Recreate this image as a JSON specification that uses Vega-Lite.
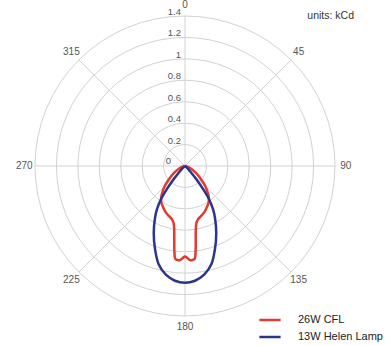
{
  "$schema": "https://vega.github.io/schema/vega-lite/v6.json",
  "width": 300,
  "height": 300,
  "autosize": "none",
  "padding": {"left": 35, "top": 16, "right": 53, "bottom": 29},
  "config": {"view": {"stroke": null}, "font": "Liberation Sans"},
  "title": {"text": "units: kCd", "anchor": "end", "frame": "group", "orient": "top", "offset": -29.5, "dx": 19, "baseline": "alphabetic", "fontSize": 10.5, "fontWeight": "normal", "color": "#333", "font": "Liberation Sans"},
  "datasets": {
    "curves": [
      {"series": "26W CFL", "a": 90, "r": 0},
      {"series": "26W CFL", "a": 105, "r": 0.03},
      {"series": "26W CFL", "a": 115, "r": 0.07},
      {"series": "26W CFL", "a": 123, "r": 0.13},
      {"series": "26W CFL", "a": 130, "r": 0.2},
      {"series": "26W CFL", "a": 135, "r": 0.27},
      {"series": "26W CFL", "a": 139, "r": 0.32},
      {"series": "26W CFL", "a": 143, "r": 0.37},
      {"series": "26W CFL", "a": 147, "r": 0.405},
      {"series": "26W CFL", "a": 152, "r": 0.435},
      {"series": "26W CFL", "a": 157, "r": 0.465},
      {"series": "26W CFL", "a": 162, "r": 0.49},
      {"series": "26W CFL", "a": 166, "r": 0.51},
      {"series": "26W CFL", "a": 168.5, "r": 0.54},
      {"series": "26W CFL", "a": 170, "r": 0.585},
      {"series": "26W CFL", "a": 171, "r": 0.64},
      {"series": "26W CFL", "a": 172, "r": 0.72},
      {"series": "26W CFL", "a": 173, "r": 0.81},
      {"series": "26W CFL", "a": 174, "r": 0.87},
      {"series": "26W CFL", "a": 175.5, "r": 0.88},
      {"series": "26W CFL", "a": 177, "r": 0.88},
      {"series": "26W CFL", "a": 178.5, "r": 0.86},
      {"series": "26W CFL", "a": 180, "r": 0.845},
      {"series": "26W CFL", "a": 181.5, "r": 0.86},
      {"series": "26W CFL", "a": 183, "r": 0.88},
      {"series": "26W CFL", "a": 184.5, "r": 0.88},
      {"series": "26W CFL", "a": 186, "r": 0.87},
      {"series": "26W CFL", "a": 187, "r": 0.81},
      {"series": "26W CFL", "a": 188, "r": 0.72},
      {"series": "26W CFL", "a": 189, "r": 0.64},
      {"series": "26W CFL", "a": 190, "r": 0.585},
      {"series": "26W CFL", "a": 191.5, "r": 0.54},
      {"series": "26W CFL", "a": 194, "r": 0.51},
      {"series": "26W CFL", "a": 198, "r": 0.49},
      {"series": "26W CFL", "a": 203, "r": 0.465},
      {"series": "26W CFL", "a": 208, "r": 0.435},
      {"series": "26W CFL", "a": 213, "r": 0.405},
      {"series": "26W CFL", "a": 217, "r": 0.37},
      {"series": "26W CFL", "a": 221, "r": 0.32},
      {"series": "26W CFL", "a": 225, "r": 0.27},
      {"series": "26W CFL", "a": 230, "r": 0.2},
      {"series": "26W CFL", "a": 237, "r": 0.13},
      {"series": "26W CFL", "a": 245, "r": 0.07},
      {"series": "26W CFL", "a": 255, "r": 0.03},
      {"series": "26W CFL", "a": 270, "r": 0},
      {"series": "13W Helen Lamp", "a": 90, "r": 0},
      {"series": "13W Helen Lamp", "a": 130, "r": 0.02},
      {"series": "13W Helen Lamp", "a": 137, "r": 0.08},
      {"series": "13W Helen Lamp", "a": 140, "r": 0.18},
      {"series": "13W Helen Lamp", "a": 142, "r": 0.28},
      {"series": "13W Helen Lamp", "a": 144, "r": 0.38},
      {"series": "13W Helen Lamp", "a": 147, "r": 0.48},
      {"series": "13W Helen Lamp", "a": 150, "r": 0.56},
      {"series": "13W Helen Lamp", "a": 155, "r": 0.69},
      {"series": "13W Helen Lamp", "a": 160, "r": 0.82},
      {"series": "13W Helen Lamp", "a": 165, "r": 0.95},
      {"series": "13W Helen Lamp", "a": 170, "r": 1.03},
      {"series": "13W Helen Lamp", "a": 175, "r": 1.075},
      {"series": "13W Helen Lamp", "a": 180, "r": 1.09},
      {"series": "13W Helen Lamp", "a": 185, "r": 1.075},
      {"series": "13W Helen Lamp", "a": 190, "r": 1.03},
      {"series": "13W Helen Lamp", "a": 195, "r": 0.95},
      {"series": "13W Helen Lamp", "a": 200, "r": 0.82},
      {"series": "13W Helen Lamp", "a": 205, "r": 0.69},
      {"series": "13W Helen Lamp", "a": 210, "r": 0.56},
      {"series": "13W Helen Lamp", "a": 213, "r": 0.48},
      {"series": "13W Helen Lamp", "a": 216, "r": 0.38},
      {"series": "13W Helen Lamp", "a": 218, "r": 0.28},
      {"series": "13W Helen Lamp", "a": 220, "r": 0.18},
      {"series": "13W Helen Lamp", "a": 223, "r": 0.08},
      {"series": "13W Helen Lamp", "a": 230, "r": 0.02},
      {"series": "13W Helen Lamp", "a": 270, "r": 0}
    ]
  },
  "layer": [
    {
      "data": {"values": [{"r": 0.2}, {"r": 0.4}, {"r": 0.6}, {"r": 0.8}, {"r": 1.0}, {"r": 1.2}, {"r": 1.4}]},
      "mark": {"type": "point", "shape": "circle", "filled": false, "stroke": "#d2d2d2", "strokeWidth": 1, "opacity": 1},
      "encoding": {
        "x": {"datum": 0, "type": "quantitative", "scale": {"domain": [-1.4, 1.4], "nice": false, "zero": false}, "axis": null},
        "y": {"datum": 0, "type": "quantitative", "scale": {"domain": [-1.4, 1.4], "nice": false, "zero": false}, "axis": null},
        "size": {"field": "r", "type": "quantitative", "scale": {"type": "pow", "exponent": 2, "domain": [0, 1.4], "range": [0, 90000], "zero": true, "nice": false}, "legend": null}
      }
    },
    {
      "data": {"values": [{"a": 0}, {"a": 45}, {"a": 90}, {"a": 135}]},
      "transform": [
        {"calculate": "1.4 * sin(datum.a * PI / 180)", "as": "ex"},
        {"calculate": "1.4 * cos(datum.a * PI / 180)", "as": "ey"},
        {"calculate": "-1.4 * sin(datum.a * PI / 180)", "as": "sx"},
        {"calculate": "-1.4 * cos(datum.a * PI / 180)", "as": "sy"}
      ],
      "mark": {"type": "rule", "stroke": "#d2d2d2", "strokeWidth": 1},
      "encoding": {
        "x": {"field": "sx", "type": "quantitative"},
        "y": {"field": "sy", "type": "quantitative"},
        "x2": {"field": "ex"},
        "y2": {"field": "ey"}
      }
    },
    {
      "data": {"values": [{"r": 0.2, "lab": "0.2"}, {"r": 0.4, "lab": "0.4"}, {"r": 0.6, "lab": "0.6"}, {"r": 0.8, "lab": "0.8"}, {"r": 1.0, "lab": "1"}, {"r": 1.2, "lab": "1.2"}, {"r": 1.4, "lab": "1.4"}]},
      "mark": {"type": "text", "align": "right", "baseline": "alphabetic", "dx": -4, "dy": -1, "fontSize": 9.5, "color": "#555"},
      "encoding": {
        "x": {"datum": 0, "type": "quantitative"},
        "y": {"field": "r", "type": "quantitative"},
        "text": {"field": "lab", "type": "nominal"}
      }
    },
    {
      "data": {"values": [{"r": 0, "lab": "0"}]},
      "mark": {"type": "text", "align": "right", "baseline": "alphabetic", "dx": -14, "dy": -2, "fontSize": 9.5, "color": "#555"},
      "encoding": {
        "x": {"datum": 0, "type": "quantitative"},
        "y": {"field": "r", "type": "quantitative"},
        "text": {"field": "lab", "type": "nominal"}
      }
    },
    {
      "data": {"values": [{"a": 0, "lab": "0"}, {"a": 45, "lab": "45"}, {"a": 90, "lab": "90"}, {"a": 135, "lab": "135"}, {"a": 180, "lab": "180"}, {"a": 225, "lab": "225"}, {"a": 270, "lab": "270"}, {"a": 315, "lab": "315"}]},
      "transform": [
        {"calculate": "1.5 * sin(datum.a * PI / 180)", "as": "lx"},
        {"calculate": "1.5 * cos(datum.a * PI / 180)", "as": "ly"}
      ],
      "mark": {"type": "text", "align": "center", "baseline": "middle", "fontSize": 10, "color": "#555"},
      "encoding": {
        "x": {"field": "lx", "type": "quantitative"},
        "y": {"field": "ly", "type": "quantitative"},
        "text": {"field": "lab", "type": "nominal"}
      }
    },
    {
      "data": {"name": "curves"},
      "transform": [
        {"calculate": "datum.r * sin(datum.a * PI / 180)", "as": "x"},
        {"calculate": "datum.r * cos(datum.a * PI / 180)", "as": "y"}
      ],
      "mark": {"type": "line", "strokeWidth": 2.5, "interpolate": "catmull-rom"},
      "encoding": {
        "x": {"field": "x", "type": "quantitative"},
        "y": {"field": "y", "type": "quantitative"},
        "order": {"field": "a", "type": "quantitative"},
        "color": {
          "field": "series", "type": "nominal",
          "scale": {"domain": ["26W CFL", "13W Helen Lamp"], "range": ["#e5392f", "#2b358c"]},
          "legend": {"orient": "none", "legendX": 223, "legendY": 292, "title": null, "symbolType": "stroke", "symbolSize": 450, "symbolStrokeWidth": 2.5, "labelFontSize": 11, "labelColor": "#222", "labelOffset": 16, "rowPadding": 0}
        }
      }
    }
  ]
}
